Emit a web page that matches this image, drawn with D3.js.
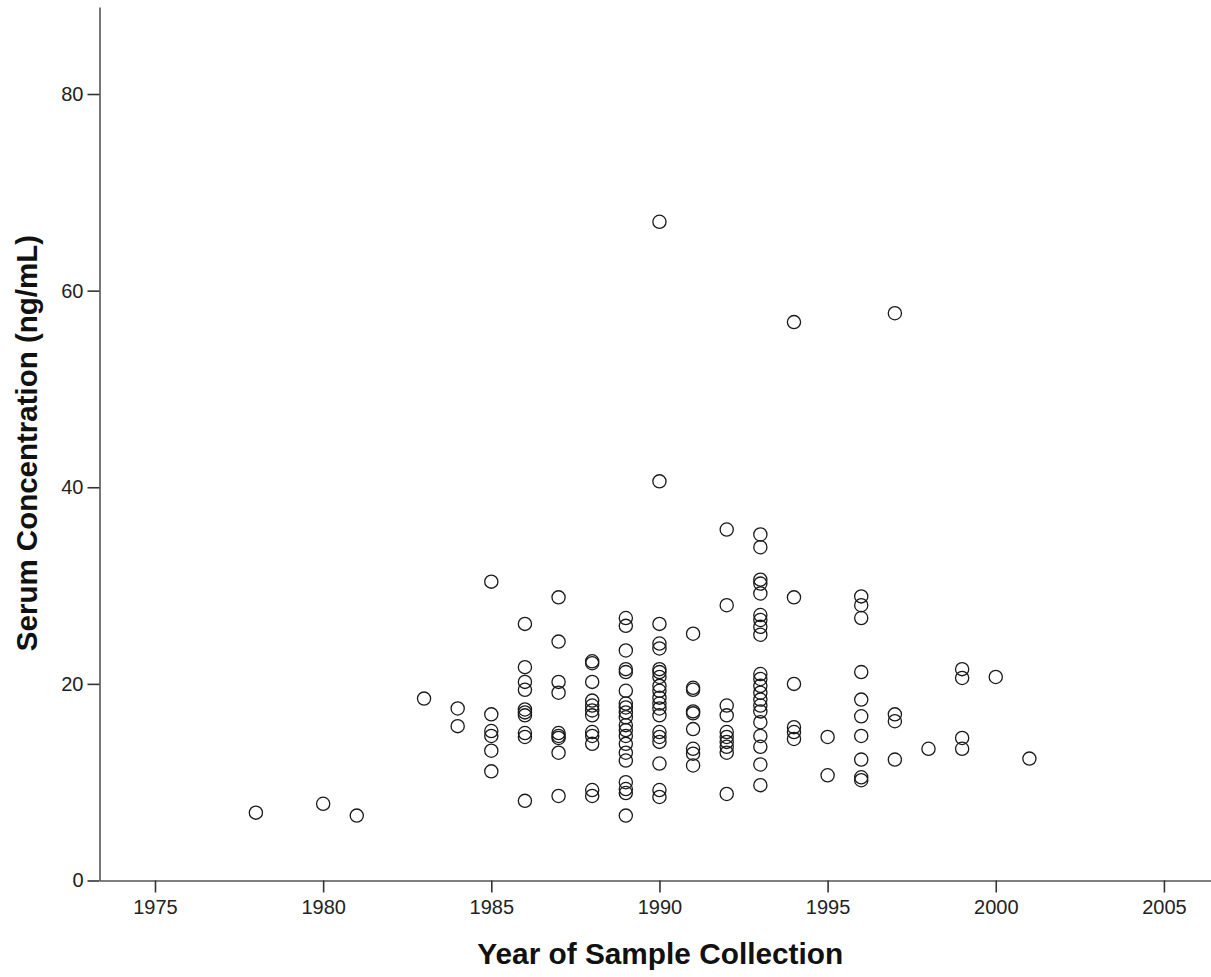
<!DOCTYPE html>
<html>
<head>
<meta charset="utf-8">
<script src="https://cdn.jsdelivr.net/npm/d3@7/dist/d3.min.js"></script>
<style>
  html, body { margin: 0; padding: 0; background: #fff; }
  svg { display: block; }
</style>
</head>
<body>
<svg id="chart" width="1211" height="977"></svg>
<script>
// ---- Data ----
const years = [1978, 1980, 1981, 1983, 1984, 1985, 1986, 1987, 1988, 1989, 1990,
               1991, 1992, 1993, 1994, 1995, 1996, 1997, 1998, 1999, 2000, 2001];
const concentrations = [
  [6.9],
  [7.8],
  [6.6],
  [18.5],
  [17.5, 15.7],
  [30.4, 16.9, 15.2, 14.7, 13.2, 11.1],
  [26.1, 21.7, 20.2, 19.4, 17.4, 17.1, 16.8, 15.0, 14.6, 8.1],
  [28.8, 24.3, 20.2, 19.1, 15.0, 14.7, 14.5, 13.0, 8.6],
  [22.3, 22.1, 20.2, 18.3, 17.8, 17.3, 16.8, 15.1, 14.7, 13.9, 9.2, 8.6],
  [26.7, 25.9, 23.4, 21.5, 21.2, 19.3, 18.0, 17.6, 17.1, 16.6, 15.8, 15.3, 14.7, 13.9, 13.0, 12.2, 10.0, 9.3, 8.9, 6.6],
  [67.0, 40.6, 26.1, 24.1, 23.6, 21.5, 21.2, 20.7, 19.8, 19.3, 18.6, 18.0, 17.5, 16.8, 15.1, 14.6, 14.1, 11.9, 9.2, 8.5],
  [25.1, 19.6, 19.4, 17.2, 17.0, 15.4, 13.4, 12.9, 11.7],
  [35.7, 28.0, 17.8, 16.8, 15.1, 14.6, 14.1, 13.6, 13.0, 8.8],
  [35.2, 33.9, 30.6, 30.2, 29.2, 27.0, 26.5, 25.8, 25.0, 21.0, 20.5, 19.8, 19.1, 18.4, 17.8, 17.2, 16.1, 14.7, 13.6, 11.8, 9.7],
  [56.8, 28.8, 20.0, 15.6, 15.1, 14.4],
  [14.6, 10.7],
  [28.9, 28.0, 26.7, 21.2, 18.4, 16.7, 14.7, 12.3, 10.5, 10.2],
  [57.7, 16.9, 16.2, 12.3],
  [13.4],
  [21.5, 20.6, 14.5, 13.4],
  [20.7],
  [12.4]
];
const xTicks = [1975, 1980, 1985, 1990, 1995, 2000, 2005];
const yTicks = [0, 20, 40, 60, 80];
const xTitle = "Year of Sample Collection";
const yTitle = "Serum Concentration (ng/mL)";

const points = [];
years.forEach((yr, i) => concentrations[i].forEach(v => points.push({ year: yr, value: v })));

// ---- Layout ----
const svg = d3.select("#chart");
const plotLeft = 99.5, plotRight = 1211, plotTop = 7, plotBottom = 880.5;

const x = d3.scaleLinear().domain([1973.35, 2006.4]).range([plotLeft, plotRight]);
const y = d3.scaleLinear().domain([0, 88.85]).range([plotBottom, plotTop]);

// Axes
const xAxis = d3.axisBottom(x).tickValues(xTicks).tickFormat(d3.format("d")).tickSize(12).tickSizeOuter(0).tickPadding(7);
const yAxis = d3.axisLeft(y).tickValues(yTicks).tickSize(12).tickSizeOuter(0).tickPadding(4);

const gx = svg.append("g").attr("transform", `translate(0,${plotBottom})`).call(xAxis);
const gy = svg.append("g").attr("transform", `translate(${plotLeft},0)`).call(yAxis);

[gx, gy].forEach(g => {
  g.select(".domain").attr("stroke", "#555").attr("stroke-width", 1.6);
  g.selectAll(".tick line").attr("stroke", "#333").attr("stroke-width", 1.6);
  g.selectAll(".tick text")
    .attr("fill", "#222")
    .style("font-family", "'Liberation Sans', Arial, sans-serif")
    .style("font-size", "20px");
});

// Points
svg.append("g")
  .selectAll("circle")
  .data(points)
  .join("circle")
  .attr("cx", d => x(d.year))
  .attr("cy", d => y(d.value))
  .attr("r", 6.6)
  .attr("fill", "none")
  .attr("stroke", "#1a1a1a")
  .attr("stroke-width", 1.3);

// Titles
svg.append("text")
  .attr("x", (plotLeft + plotRight) / 2 + 5)
  .attr("y", 964)
  .attr("text-anchor", "middle")
  .attr("fill", "#111")
  .style("font-family", "'Liberation Sans', Arial, sans-serif")
  .style("font-weight", "bold")
  .style("font-size", "29.8px")
  .text(xTitle);

svg.append("text")
  .attr("transform", `translate(37,443) rotate(-90)`)
  .attr("text-anchor", "middle")
  .attr("fill", "#111")
  .style("font-family", "'Liberation Sans', Arial, sans-serif")
  .style("font-weight", "bold")
  .style("font-size", "29.5px")
  .text(yTitle);
</script>
</body>
</html>
